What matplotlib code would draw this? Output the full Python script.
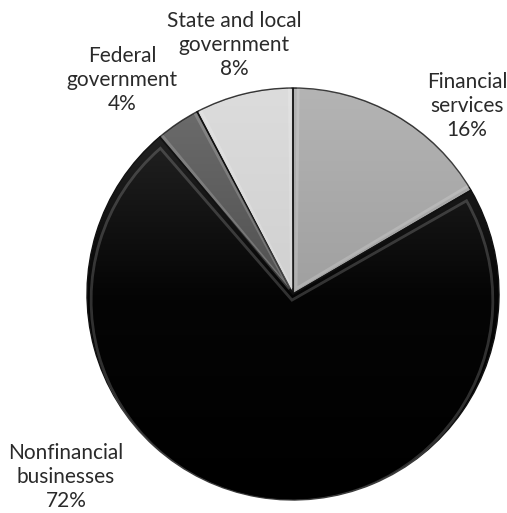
import numpy as np
import matplotlib
matplotlib.use("Agg")
import matplotlib.pyplot as plt
from matplotlib.colors import LinearSegmentedColormap

# slices, clockwise from 12 o'clock
sectors = ["Financial\nservices", "Nonfinancial\nbusinesses",
           "Federal\ngovernment", "State and local\ngovernment"]
shares = [16.6, 72.2, 3.5, 7.7]
pct_labels = ["16%", "72%", "4%", "8%"]  # as printed on the chart

# gradient (bottom, middle, top colour) per slice
shades = [("#8c8c8c", "#a0a0a0", "#b4b4b4"),
          ("#000000", "#050505", "#2a2a2a"),
          ("#383838", "#505050", "#6e6e6e"),
          ("#c4c4c4", "#d0d0d0", "#dcdcdc")]
# label centres in figure fraction
label_pos = [(0.921, 0.793), (0.130, 0.070), (0.241, 0.844), (0.462, 0.912)]

plt.rcParams["font.family"] = ["Lato", "DejaVu Sans"]

W, H = 507, 513
cx, cy, R = 293, 294, 206   # pie centre / radius in pixels

fig = plt.figure(figsize=(W / 100, H / 100), dpi=100)
ax = fig.add_axes([0, 0, 1, 1])
wedges, _ = ax.pie(shares, startangle=90, counterclock=False, radius=1,
                   wedgeprops=dict(edgecolor="#111111", linewidth=1.0))

grad = np.linspace(0, 1, 256).reshape(-1, 1)
for w, cols in zip(wedges, shades):
    w.set_facecolor("none")
    cmap = LinearSegmentedColormap.from_list("g", list(cols))
    im = ax.imshow(grad, extent=[-1, 1, -1, 1], origin="lower", cmap=cmap,
                   aspect="auto", zorder=0.5, interpolation="bicubic")
    im.set_clip_path(w)
    # soft bevel highlight just inside the edge
    t1, t2 = w.theta1, w.theta2
    mid = np.deg2rad((t1 + t2) / 2)
    inner = matplotlib.patches.Wedge((0.03 * np.cos(mid), 0.03 * np.sin(mid)),
                                     0.975, t1 + 0.6, t2 - 0.6,
                                     facecolor="none", edgecolor="white",
                                     linewidth=2.0, alpha=0.18, zorder=2)
    ax.add_patch(inner)

for name, pct, (x, y) in zip(sectors, pct_labels, label_pos):
    fig.text(x, y, f"{name}\n{pct}", ha="center", va="center",
             fontsize=15, color="#2a2a2a", linespacing=1.25)

ax.set_xlim(-cx / R, (W - cx) / R)
ax.set_ylim(-(H - cy) / R, cy / R)
ax.set_aspect("auto")
ax.axis("off")
fig.savefig("out.png", dpi=100)
